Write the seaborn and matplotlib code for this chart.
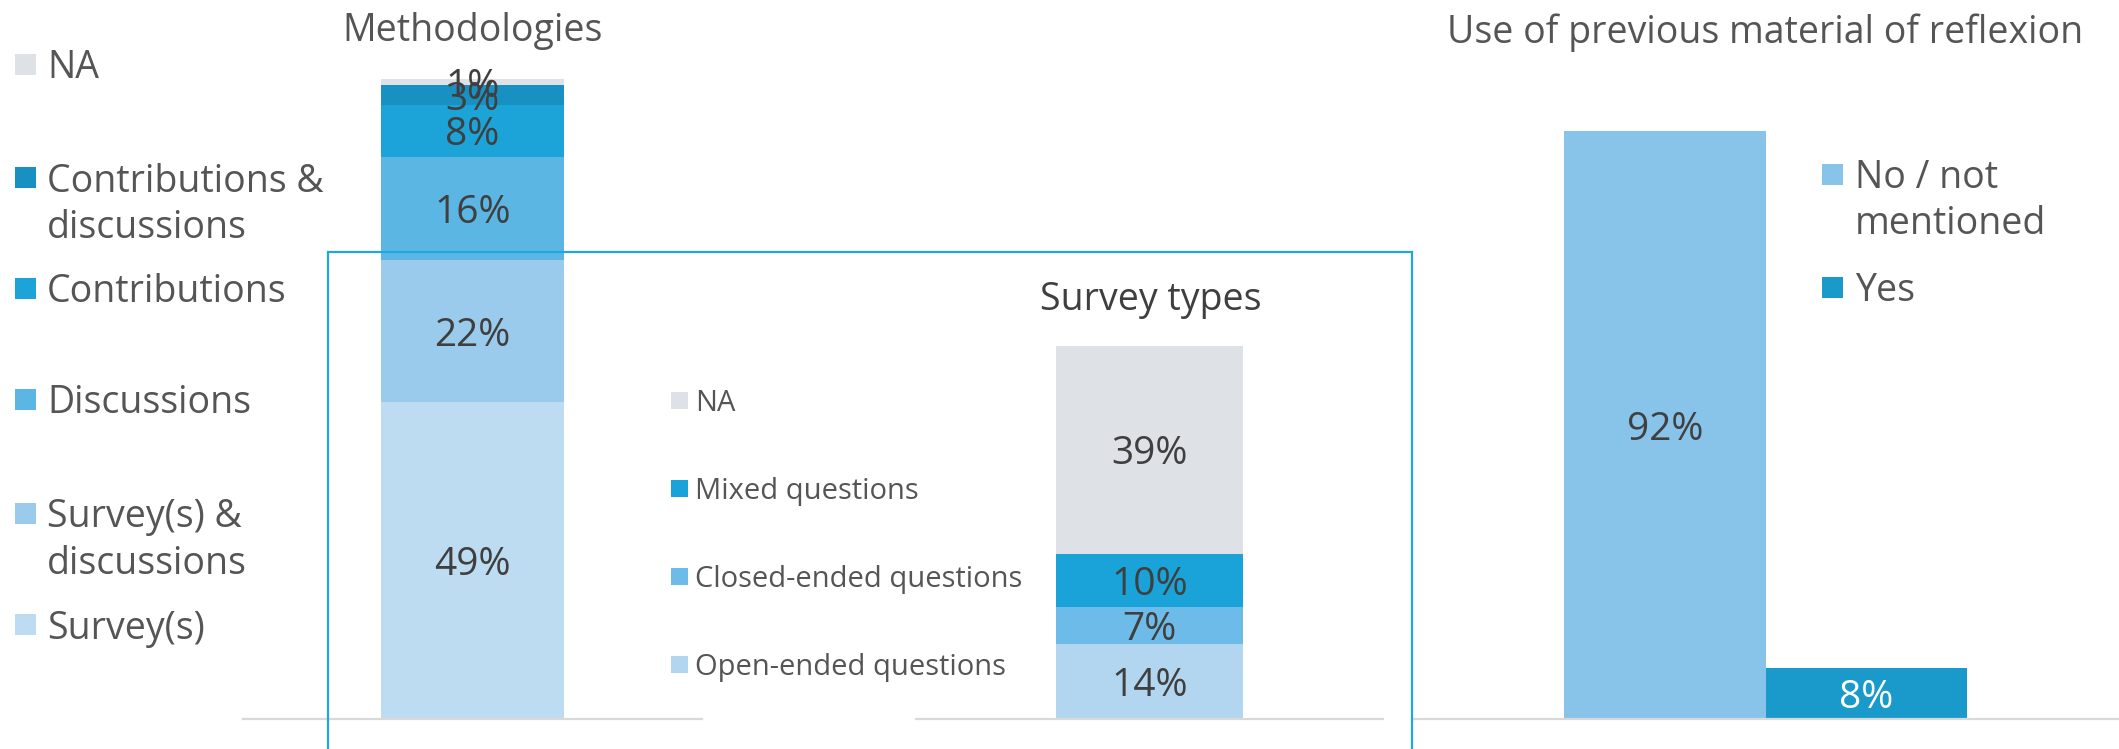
import numpy as np
import pandas as pd
import matplotlib
matplotlib.use("Agg")
import matplotlib.pyplot as plt
from matplotlib.patches import Rectangle
import seaborn as sns


W, H = 2119, 749

# Methodologies (stacked, bottom to top)
method_labels = ["Survey(s)", "Survey(s) &\ndiscussions", "Discussions",
                 "Contributions", "Contributions &\ndiscussions", "NA"]
method_values = [49, 22, 16, 8, 3, 1]
method_colors = ["#BDDBF1", "#9ACBEC", "#5CB6E4", "#1CA4D9", "#1890C2", "#DEE1E5"]

# Survey types (stacked, bottom to top)
survey_labels = ["Open-ended questions", "Closed-ended questions",
                 "Mixed questions", "NA"]
survey_values = [14, 7, 10, 39]
survey_colors = ["#B2D6F0", "#6DBBE8", "#1AA3D8", "#DEE1E5"]

# Use of previous material of reflexion
prev_labels = ["No / not\nmentioned", "Yes"]
prev_values = [92, 8]
prev_colors = ["#88C3EA", "#199ACB"]
prev_text = ["#404040", "white"]

TEXT = "#555555"
LABEL = "#3F3F3F"
LINE = "#D9D9D9"
WEIGHT = 500


def fx(x):
    return x / W


def fy(y):
    return 1 - y / H


def make_ax(fig, left, right, top, bottom=719):
    # axes placed in pixels, y from the top of the picture
    ax = fig.add_axes([fx(left), fy(bottom), (right - left) / W, (bottom - top) / H])
    ax.patch.set_alpha(0)
    return ax


def tidy(ax):
    ax.set_ylim(0, 100)
    ax.set_xlabel("")
    ax.set_ylabel("")
    ax.set_xticks([])
    ax.set_yticks([])
    for s in ["top", "left", "right"]:
        ax.spines[s].set_visible(False)
    ax.spines["bottom"].set_color(LINE)
    ax.spines["bottom"].set_linewidth(1.6)


def stacked_bar(ax, labels, values, colors, size):
    cum = np.cumsum(values)
    df = pd.DataFrame({"group": "all", "segment": labels, "cum": cum})
    # tallest drawn first so the shorter totals sit on top of it
    sns.barplot(data=df, x="group", y="cum", hue="segment", hue_order=labels[::-1],
                palette=dict(zip(labels, colors)), dodge=False, width=0.4,
                saturation=1, errorbar=None, legend=False, linewidth=0,
                edgecolor="none", ax=ax)
    ax.set_xlim(-0.5, 0.5)
    for v, c in zip(values, cum):
        ax.text(0, c - v / 2, f"{v}%", ha="center", va="center_baseline",
                fontsize=size, color=LABEL, fontweight=WEIGHT)
    tidy(ax)


def legend(fig, labels, colors, rows, x_sq, x_txt, sq, size, step=46):
    for lab, col, y in zip(labels, colors, rows):
        fig.add_artist(Rectangle((fx(x_sq), fy(y + sq / 2)), sq / W, sq / H,
                                 facecolor=col, edgecolor="none"))
        # one text per line, so the square lines up with the first one
        for i, line in enumerate(lab.split("\n")):
            fig.text(fx(x_txt), fy(y + i * step), line, ha="left",
                     va="center_baseline", fontsize=size, color=TEXT,
                     fontweight=WEIGHT)


sns.set_style("white")
plt.rcParams["font.family"] = ["Open Sans", "DejaVu Sans"]

fig = plt.figure(figsize=(W / 100, H / 100), dpi=100)

# Methodologies
ax1 = make_ax(fig, 243, 702, 72.5)
stacked_bar(ax1, method_labels, method_values, method_colors, 28)
fig.text(fx(473), fy(27), "Methodologies", ha="center", va="center_baseline",
         fontsize=27, color=TEXT, fontweight=WEIGHT)
legend(fig, method_labels[::-1], method_colors[::-1],
       [64, 177, 288, 399, 513, 624], 15, 47, 21, 27)

# Survey types
ax2 = make_ax(fig, 916, 1383, 186)
stacked_bar(ax2, survey_labels, survey_values, survey_colors, 28)
fig.text(fx(1151), fy(295), "Survey types", ha="center", va="center_baseline",
         fontsize=27, color=LABEL, fontweight=WEIGHT)
legend(fig, survey_labels[::-1], survey_colors[::-1],
       [400, 488, 576, 664], 671, 695, 17, 21)

# Use of previous material of reflexion
ax3 = make_ax(fig, 1412, 2119, 80)
df3 = pd.DataFrame({"group": "all", "answer": prev_labels, "share": prev_values})
sns.barplot(data=df3, x="group", y="share", hue="answer", hue_order=prev_labels,
            palette=dict(zip(prev_labels, prev_colors)), width=0.57,
            saturation=1, errorbar=None, legend=False, linewidth=0,
            edgecolor="none", ax=ax3)
ax3.set_xlim(-0.5, 0.5)
for p, v, c in zip(ax3.patches, prev_values, prev_text):
    ax3.text(p.get_x() + p.get_width() / 2, p.get_height() / 2, f"{v}%",
             ha="center", va="center_baseline", fontsize=28, color=c,
             fontweight=WEIGHT)
tidy(ax3)
fig.text(fx(1765), fy(28.5), "Use of previous material of reflexion",
         ha="center", va="center_baseline", fontsize=27, color=TEXT,
         fontweight=WEIGHT)
legend(fig, prev_labels, prev_colors, [174, 287], 1822, 1855, 21, 27)

# blue frame around the survey types part
fig.add_artist(Rectangle((fx(328), fy(800)), (1412 - 328) / W, (800 - 252) / H,
                         fill=False, edgecolor="#20A7DF", linewidth=1.6,
                         zorder=5, clip_on=False))

fig.savefig("out.png", dpi=100)
